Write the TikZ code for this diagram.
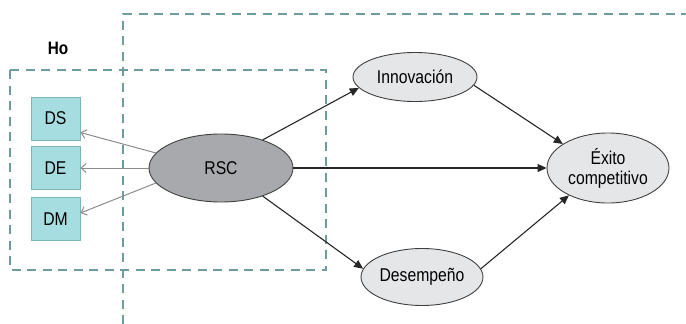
\documentclass[tikz,border=0pt]{standalone}
\usepackage{fontspec}
\setmainfont{Liberation Sans}[FakeStretch=0.85]
\usetikzlibrary{arrows.meta,shapes.geometric}
\definecolor{dashc}{HTML}{6E9C9E}
\definecolor{boxfill}{HTML}{A6DDE0}
\definecolor{boxdraw}{HTML}{78B6BA}
\definecolor{rscfill}{HTML}{A8A9AD}
\definecolor{ellfill}{HTML}{E5E6E8}
\definecolor{darkarr}{HTML}{262626}
\definecolor{grayarr}{HTML}{8C8C8C}
\tikzset{
  x=1pt, y=-1pt,
  dashbox/.style={draw=dashc, line width=1.5pt, dash pattern=on 9pt off 6.5pt},
  dimbox/.style={draw=boxdraw, fill=boxfill, line width=0.8pt, minimum width=49pt, minimum height=43pt, inner sep=0pt, font=\fontsize{18.5}{20}\selectfont},
  latent/.style={ellipse, draw=black!75, line width=0.9pt, fill=ellfill, inner sep=0pt, font=\fontsize{18.5}{20}\selectfont, align=center},
  darrow/.style={draw=darkarr, line width=1.1pt, -{Triangle[length=9pt,width=8pt]}},
  garrow/.style={draw=grayarr, line width=1pt, -{Straight Barb[length=5pt,width=9pt]}}
}
\begin{document}
\begin{tikzpicture}
\useasboundingbox (0,0) rectangle (686,324);
% dashed frames
\draw[dashbox] (123,324) -- (123,14) -- (686,14);
\draw[dashbox] (10,70) rectangle (326,270);
\node[font=\bfseries\fontsize{18}{20}\selectfont] (ho) at (58,48) {Ho};
% dimension boxes
\node[dimbox] (ds) at (55.5,118.5) {DS};
\node[dimbox] (de) at (55.5,168) {DE};
\node[dimbox] (dm) at (55.5,219) {DM};
% latent variables
\node[latent, fill=rscfill, minimum width=144pt, minimum height=68pt] (rsc) at (221,168) {RSC};
\node[latent, minimum width=124pt, minimum height=49pt] (inn) at (415,77) {Innovación};
\node[latent, minimum width=122pt, minimum height=70pt] (exi) at (608,168) {Éxito\\competitivo};
\node[latent, minimum width=122pt, minimum height=57pt] (des) at (422,277) {Desempeño};
% gray arrows
\draw[garrow] (rsc.167) -- ([yshift=-14pt]ds.east);
\draw[garrow] (rsc.west) -- (de.east);
\draw[garrow] (rsc.193) -- ([yshift=6pt]dm.east);
% dark arrows
\draw[darrow] (rsc.34) -- (inn.191);
\draw[darrow] (rsc.-34) -- (des.172);
\draw[darrow] (rsc.east) -- (exi.west);
\draw[darrow] (inn.-8) -- (exi.152);
\draw[darrow] (des.8) -- (exi.215);
\end{tikzpicture}
\end{document}
